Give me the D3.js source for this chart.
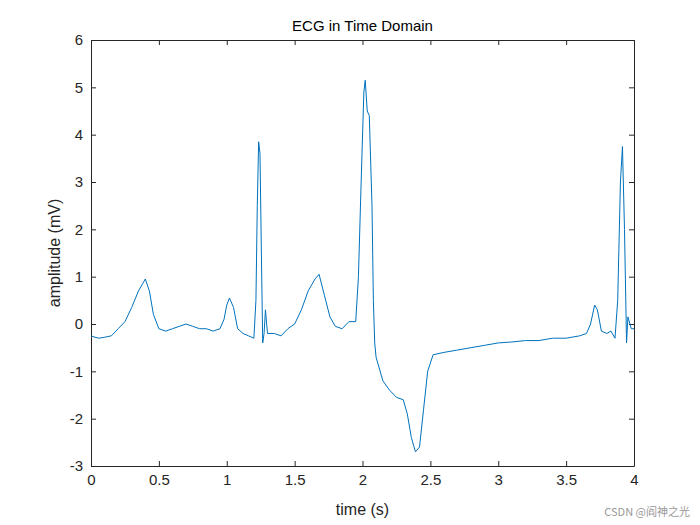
<!DOCTYPE html><html><head><meta charset="utf-8"><script src="https://cdn.jsdelivr.net/npm/d3@7"></script>
<style>body{margin:0;background:#fff}text{font-family:"Liberation Sans",Arial,sans-serif}</style></head><body>
<svg id="c" width="700" height="525"></svg>
<script>
const times=[0,0.03,0.06,0.1,0.15,0.2,0.25,0.3,0.35,0.38,0.4,0.43,0.46,0.5,0.55,0.6,0.65,0.7,0.75,0.8,0.85,0.9,0.95,0.98,1.0,1.02,1.05,1.08,1.12,1.16,1.2,1.215,1.225,1.235,1.245,1.255,1.265,1.275,1.285,1.3,1.35,1.4,1.45,1.5,1.55,1.6,1.65,1.68,1.72,1.76,1.8,1.85,1.9,1.95,1.97,1.99,2.01,2.02,2.035,2.05,2.07,2.08,2.09,2.1,2.15,2.2,2.25,2.3,2.33,2.36,2.39,2.42,2.45,2.48,2.52,2.6,2.7,2.8,2.9,3.0,3.1,3.2,3.3,3.4,3.5,3.6,3.65,3.68,3.71,3.73,3.76,3.8,3.83,3.86,3.88,3.9,3.915,3.93,3.945,3.955,3.97,3.98,4.0];
const amps=[-0.25,-0.28,-0.3,-0.28,-0.25,-0.1,0.05,0.35,0.7,0.85,0.95,0.7,0.2,-0.1,-0.15,-0.1,-0.05,0.0,-0.05,-0.1,-0.1,-0.15,-0.1,0.1,0.4,0.55,0.35,-0.1,-0.2,-0.25,-0.3,0.5,2.5,3.85,3.6,1.5,-0.4,-0.2,0.3,-0.2,-0.2,-0.25,-0.1,0.0,0.3,0.7,0.95,1.05,0.6,0.15,-0.05,-0.1,0.05,0.05,1.0,3.0,4.9,5.15,4.5,4.4,2.5,0.5,-0.4,-0.7,-1.2,-1.4,-1.55,-1.6,-1.9,-2.4,-2.7,-2.6,-1.8,-1.0,-0.65,-0.6,-0.55,-0.5,-0.45,-0.4,-0.38,-0.35,-0.35,-0.3,-0.3,-0.25,-0.2,0.0,0.4,0.3,-0.15,-0.2,-0.15,-0.3,0.5,3.0,3.75,2.0,-0.4,0.15,0.0,-0.1,-0.1];
const xTicks=[0,0.5,1,1.5,2,2.5,3,3.5,4];
const yTicks=[-3,-2,-1,0,1,2,3,4,5,6];
const svg=d3.select("#c");
const L=91,R=634,T=40,B=466;
const x=d3.scaleLinear().domain([0,4]).range([L,R]);
const y=d3.scaleLinear().domain([-3,6]).range([B,T]);
const fmt=d=>String(d);
const gx=svg.append("g").attr("transform",`translate(0,${B})`).call(d3.axisBottom(x).tickValues(xTicks).tickSizeInner(-5).tickSizeOuter(0).tickPadding(8).tickFormat(fmt));
const gx2=svg.append("g").attr("transform",`translate(0,${T})`).call(d3.axisTop(x).tickValues(xTicks).tickSizeInner(-5).tickSizeOuter(0).tickFormat(""));
const gy=svg.append("g").attr("transform",`translate(${L},0)`).call(d3.axisLeft(y).tickValues(yTicks).tickSizeInner(-5).tickSizeOuter(0).tickPadding(8).tickFormat(fmt));
const gy2=svg.append("g").attr("transform",`translate(${R},0)`).call(d3.axisRight(y).tickValues(yTicks).tickSizeInner(-5).tickSizeOuter(0).tickFormat(""));
[gx,gx2,gy,gy2].forEach(g=>{g.selectAll("path,line").attr("stroke","#262626");g.selectAll("text").attr("font-size",15).attr("fill","#262626");});
svg.append("path").datum(times.map((t,i)=>[t,amps[i]])).attr("fill","none").attr("stroke","#0072BD").attr("stroke-width",1)
 .attr("d",d3.line().x(d=>x(d[0])).y(d=>y(d[1])));
svg.append("text").attr("x",(L+R)/2).attr("y",31).attr("text-anchor","middle").attr("font-size",15).attr("fill","#000").text("ECG in Time Domain");
svg.append("text").attr("x",(L+R)/2).attr("y",515).attr("text-anchor","middle").attr("font-size",16).attr("fill","#262626").text("time (s)");
svg.append("text").attr("transform",`translate(60,${(T+B)/2}) rotate(-90)`).attr("text-anchor","middle").attr("font-size",16).attr("fill","#262626").text("amplitude (mV)");
svg.append("text").attr("x",690).attr("y",516).attr("text-anchor","end").attr("font-size",11).attr("fill","#999").style("font-family","Noto Sans CJK SC").text("CSDN @阎神之光");
</script></body></html>
